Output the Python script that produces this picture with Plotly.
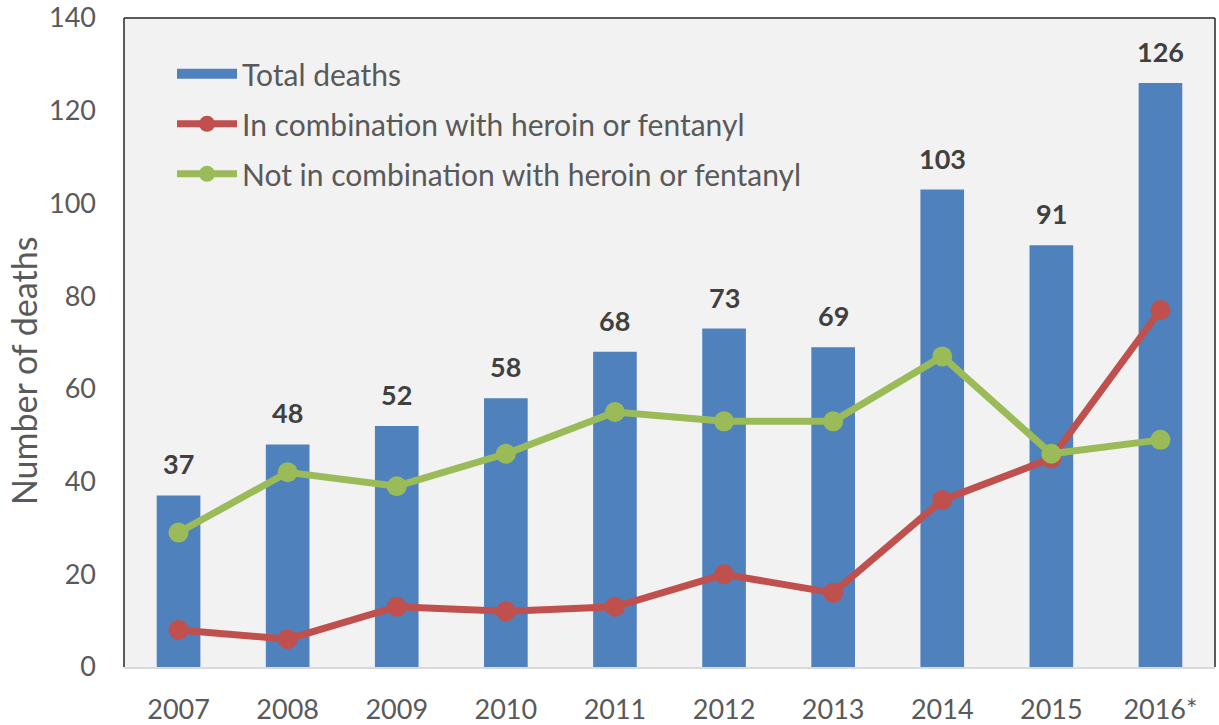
import plotly.graph_objects as go

years = ["2007", "2008", "2009", "2010", "2011", "2012", "2013", "2014", "2015", "2016*"]
total_deaths = [37, 48, 52, 58, 68, 73, 69, 103, 91, 126]
with_heroin_fentanyl = [8, 6, 13, 12, 13, 20, 16, 36, 45, 77]
without_heroin_fentanyl = [29, 42, 39, 46, 55, 53, 53, 67, 46, 49]

FONT = "Lato, 'Open Sans', sans-serif"
GREY = "#595959"
BLUE, RED, GREEN = "#4F81BD", "#C0504D", "#9BBB59"

fig = go.Figure()
fig.add_trace(go.Bar(
    x=years, y=total_deaths, name="Total deaths",
    marker=dict(color=BLUE, line=dict(width=0)),
    width=0.4, showlegend=False,
))
# Legend entry for the bars drawn as a wide block
fig.add_trace(go.Scatter(
    x=[None], y=[None], name="Total deaths", mode="lines",
    line=dict(color=BLUE, width=18), legendgroup="a",
))
fig.add_trace(go.Scatter(
    x=years, y=with_heroin_fentanyl, name="In combination with heroin or fentanyl",
    mode="lines+markers",
    line=dict(color=RED, width=7),
    marker=dict(color=RED, size=20),
    legendgroup="b",
))
fig.add_trace(go.Scatter(
    x=years, y=without_heroin_fentanyl, name="Not in combination with heroin or fentanyl",
    mode="lines+markers",
    line=dict(color=GREEN, width=7),
    marker=dict(color=GREEN, size=20),
    legendgroup="c",
))

# Value labels above each bar (positioned by category index)
for i, v in enumerate(total_deaths):
    fig.add_annotation(
        x=i, y=v, text=f"<b>{v}</b>", showarrow=False,
        yanchor="bottom", yshift=13,
        font=dict(family=FONT, size=27, color="#404040"),
    )

# Y-axis title
fig.add_annotation(
    xref="paper", yref="paper", x=-0.0926, y=0.456,
    text="Number of deaths", textangle=-90, showarrow=False,
    xanchor="center", yanchor="middle",
    font=dict(family=FONT, size=34, color=GREY),
)

# Dark frame on top, left and right of the plot area
for x0, y0, x1, y1 in [(0, 1, 1, 1), (0, 0, 0, 1), (1, 0, 1, 1)]:
    fig.add_shape(type="line", xref="paper", yref="paper",
                  x0=x0, y0=y0, x1=x1, y1=y1,
                  line=dict(color="#262626", width=1.5))

fig.update_layout(
    width=1219, height=725,
    margin=dict(l=124, r=4, t=18, b=58),
    paper_bgcolor="white",
    plot_bgcolor="#F2F2F2",
    font=dict(family=FONT, color=GREY),
    showlegend=True,
    legend=dict(
        x=0.044, y=0.954, xanchor="left", yanchor="top",
        bgcolor="rgba(0,0,0,0)",
        font=dict(family=FONT, size=30, color=GREY),
        traceorder="grouped", tracegroupgap=8,
        itemwidth=60,
    ),
    xaxis=dict(
        type="category", range=[-0.5, len(years) - 0.5],
        automargin=False,
        showgrid=False, zeroline=False,
        showline=True, linecolor="#D9D9D9", linewidth=2,
        tickfont=dict(family=FONT, size=27, color=GREY),
        ticks="", ticklabelstandoff=18,
    ),
    yaxis=dict(
        range=[0, 140], dtick=20, automargin=False,
        showgrid=False, zeroline=False, showline=False,
        tickfont=dict(family=FONT, size=27, color=GREY),
        ticks="", ticklabelstandoff=27,
    ),
)

fig.write_html("out.html")
